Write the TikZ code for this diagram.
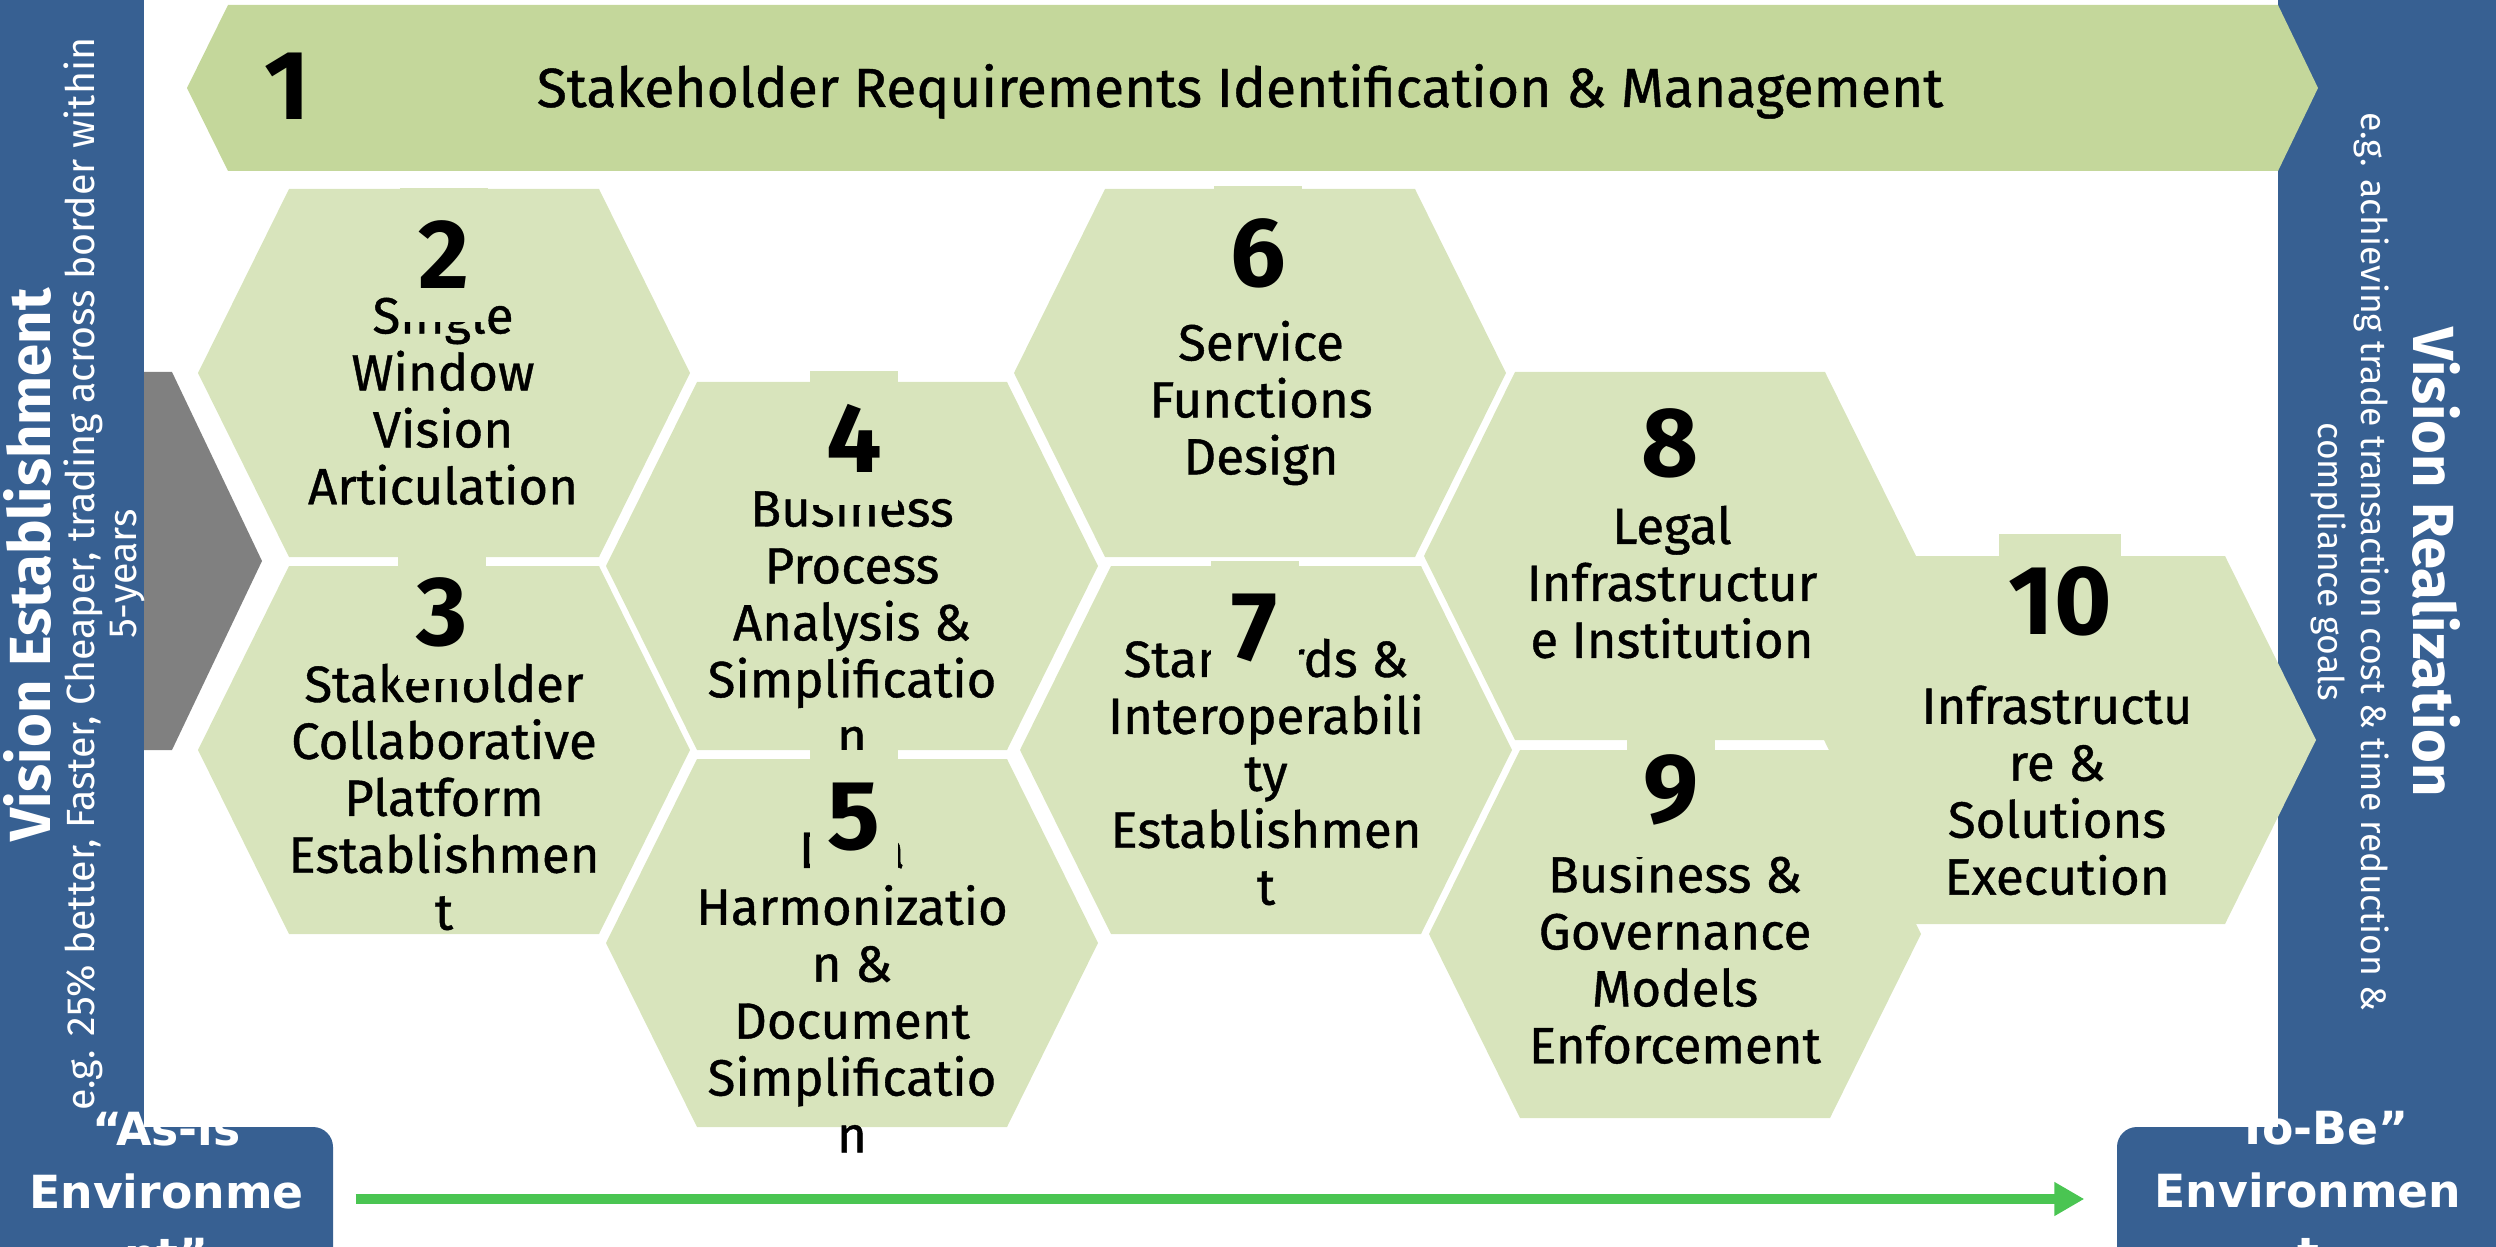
\documentclass[tikz,border=0pt]{standalone}
\usepackage{fontspec}
\setmainfont{Fira Sans}
\newfontfamily\hexfont{Fira Sans}[FakeBold=0.8]
\newfontfamily\boxfont{DejaVu Sans}
\definecolor{panelblue}{RGB}{55, 96, 146}
\definecolor{bannergreen}{RGB}{196, 215, 155}
\definecolor{hexgreen}{RGB}{216, 228, 188}
\definecolor{arrowgray}{RGB}{128, 128, 128}
\definecolor{flowgreen}{RGB}{74, 197, 82}
\usetikzlibrary{arrows.meta,positioning}

\begin{document}
\begin{tikzpicture}[
    hextext/.style={anchor=north, align=center, inner sep=0pt, font=\hexfont\fontsize{14.5}{16.2}\selectfont},
    hexnum/.style={fill=hexgreen, inner xsep=0.09cm, inner ysep=0pt, minimum width=0.88cm, minimum height=1.34cm, font=\bfseries\fontsize{28}{30}\selectfont},
    paneltitle/.style={text=white, font=\bfseries\fontsize{16.5}{18}\selectfont},
    panelnote/.style={text=white, align=center, inner sep=1pt},
    envbox/.style={fill=panelblue, rounded corners=0.2cm, minimum width=#1, minimum height=1.44cm},
    envtext/.style={text=white, align=center, font=\boxfont\bfseries\fontsize{13}{18}\selectfont}
]
    \useasboundingbox (0,0) rectangle (24.96,12.46);

    % Side panels
    \fill[panelblue] (0,1.19) rectangle (1.44,12.46);
    \fill[panelblue] (22.78,1.19) rectangle (24.96,12.46);
    \fill[arrowgray] (1.44,8.74) -- (1.72,8.74) -- (2.62,6.85) -- (1.72,4.96) -- (1.44,4.96) -- cycle;

    \node[paneltitle, rotate=90] (estab) at (0.27,6.81) {Vision Establishment};
    \node[panelnote, rotate=90, font=\fontsize{11.2}{12}\selectfont] (estabnote) at (1.04,6.72) {e.g. 25\% better, Faster, Cheaper, trading across border within\\5-years};
    \node[paneltitle, rotate=-90] (realize) at (24.37,6.84) {Vision Realization};
    \node[panelnote, rotate=-90, font=\fontsize{10.1}{12}\selectfont] (realizenote) at (23.50,6.84) {e.g. achieving trade transaction cost \& time reduction \&\\compliance goals};

    % Banner
    \fill[bannergreen] (1.87,11.58) -- (2.28,12.41) -- (22.78,12.41) -- (23.18,11.58) -- (22.78,10.75) -- (2.28,10.75) -- cycle;
    \node[font=\bfseries\fontsize{28}{30}\selectfont] (n1) at (2.87,11.60) {1};
    \node[anchor=base, font=\hexfont\fontsize{15.7}{18}\selectfont] (req) at (12.40,11.39) {Stakeholder Requirements Identification \& Management};

    % Hexagons
    \foreach \x/\y in {4.44/8.73, 4.44/4.96, 8.52/6.80, 8.52/3.03, 12.60/8.73, 12.66/4.96, 16.70/6.90, 16.75/3.12, 20.70/5.06}
        \fill[hexgreen] (\x-2.46,\y) -- (\x-1.55,\y+1.84) -- (\x+1.55,\y+1.84) -- (\x+2.46,\y) -- (\x+1.55,\y-1.84) -- (\x-1.55,\y-1.84) -- cycle;

    \node[hextext] (window) at (4.43,9.53) {Single\\Window\\Vision\\Articulation};
    \node[hextext] (platform) at (4.44,5.83) {Stakeholder\\Collaborative\\Platform\\Establishmen\\t};
    \node[hextext] (process) at (8.52,7.60) {Business\\Process\\Analysis \&\\Simplificatio\\n};
    \node[hextext] (harmonize) at (8.52,4.14) {Data\\Harmonizatio\\n \&\\Document\\Simplificatio\\n};
    \node[hextext] (service) at (12.61,9.26) {Service\\Functions\\Design};
    \node[hextext] (standards) at (12.66,6.08) {Standards \&\\Interoperabili\\ty\\Establishmen\\t};
    \node[hextext] (legal) at (16.72,7.41) {Legal\\Infrastructur\\e Institution};
    \node[hextext] (governance) at (16.75,3.94) {Business \&\\Governance\\Models\\Enforcement};
    \node[hextext] (infra) at (20.57,6.15) {IT\\Infrastructu\\re \&\\Solutions\\Execution};

    % Numbers
    \node[hexnum] (n2) at (4.44,9.91) {2};
    \node[hexnum] (n3) at (4.42,6.34) {3};
    \node[hexnum] (n4) at (8.54,8.08) {4};
    \node[hexnum] (n5) at (8.54,4.29) {5};
    \node[hexnum] (n6) at (12.58,9.93) {6};
    \node[hexnum] (n7) at (12.55,6.18) {7};
    \node[hexnum] (n8) at (16.70,8.03) {8};
    \node[hexnum] (n9) at (16.71,4.56) {9};
    \node[hexnum] (n10) at (20.60,6.45) {10};

    % Environments
    \node[envbox=3.63cm] (asis) at (1.515,0.47) {};
    \node[envbox=4.83cm] (tobe) at (23.585,0.47) {};
    \node[envtext] (asislabel) at (1.665,0.55) {“As-is\\Environme\\nt”};
    \node[envtext] (tobelabel) at (23.08,0.55) {“To-Be”\\Environmen\\t};
    \draw[flowgreen, line width=0.1cm, -{Triangle[length=0.3cm,width=0.32cm]}, shorten <=0.22cm, shorten >=0.32cm] (asis.east) -- (tobe.west);
\end{tikzpicture}
\end{document}
